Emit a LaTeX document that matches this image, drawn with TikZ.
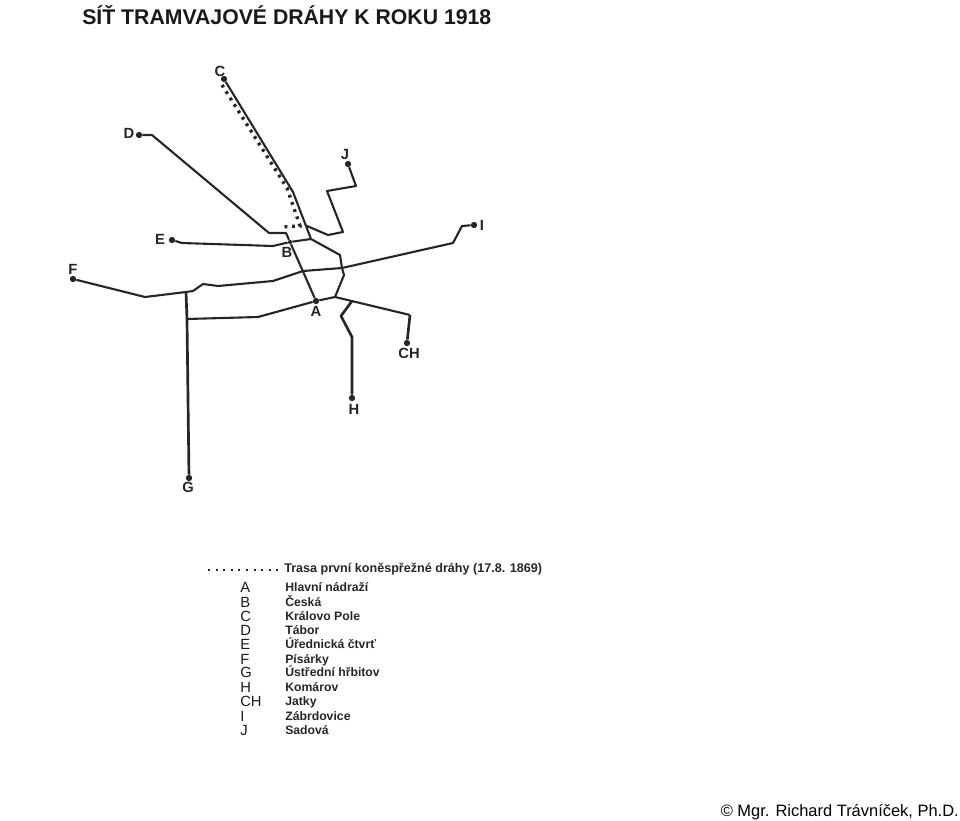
\documentclass[tikz,border=0pt]{standalone}
\usepackage{fontspec}
\setmainfont{Liberation Sans}
\tikzset{
  trat/.style={line width=1.5pt,black!85,line join=round},
  silna/.style={line width=1.9pt,black!85,line join=round},
  zast/.style={circle,fill=black!85,inner sep=0pt,minimum size=4.5pt},
  znak/.style={font=\bfseries\fontsize{10.5}{10}\selectfont,inner sep=0pt,black!85},
  legznak/.style={font=\fontsize{10.5}{10.5}\selectfont,inner sep=0pt,anchor=base west,black!90},
  legtext/.style={font=\bfseries\fontsize{8.7}{9}\selectfont,inner sep=0pt,anchor=base west,black!85},
}
\begin{document}
\begin{tikzpicture}[x=0.025cm,y=-0.025cm]
  \useasboundingbox (0,0) rectangle (960,821);
  \node[font=\bfseries\fontsize{15.1}{15}\selectfont,inner sep=0pt,anchor=base west,black!90] (titul) at (82,25) {SÍŤ TRAMVAJOVÉ DRÁHY K ROKU 1918};
  % zastavky
  \node[zast] (A) at (316,301) {};
  \node[zast,minimum size=3pt] (B) at (290,242) {};
  \node[zast] (C) at (224,79) {};
  \node[zast] (D) at (139,135) {};
  \node[zast] (E) at (172,240) {};
  \node[zast] (F) at (73,279) {};
  \node[zast] (G) at (189,478) {};
  \node[zast] (H) at (352,398) {};
  \node[zast] (CH) at (407,343) {};
  \node[zast] (I) at (474,225) {};
  \node[zast] (J) at (348,164) {};
  \coordinate (krizC) at (311,239);
  \coordinate (krizJ) at (307,226);
  \coordinate (krizF) at (186,292);
  \coordinate (krizG) at (187,319);
  \coordinate (krizA) at (335,297);
  \coordinate (krizH) at (352,301);
  \coordinate (krizI) at (342,268);
  % popisky
  \node[znak] (lA) at (316,311) {A};
  \node[znak] (lB) at (287,252) {B};
  \node[znak] (lC) at (220,71) {C};
  \node[znak] (lD) at (129,133) {D};
  \node[znak] (lE) at (160,239) {E};
  \node[znak] (lF) at (73,269) {F};
  \node[znak] (lG) at (188,487) {G};
  \node[znak] (lH) at (354,409) {H};
  \node[znak] (lCH) at (409,353) {CH};
  \node[znak] (lI) at (482,225) {I};
  \node[znak] (lJ) at (345,154) {J};
  % trate
  \draw[trat] (C)--(293,192)--(krizC);
  \draw[trat] (D)--(152,135)--(269,233)--(286,233)--(B)--(A);
  \draw[trat] (E)--(182,243)--(273,246)--(B)--(krizC);
  \draw[trat] (J)--(356,186)--(327,191)--(343,232)--(328,235)--(krizJ);
  \draw[trat] (krizC)--(340,255)--(krizI)--(344,275)--(krizA)--(A);
  \draw[trat] (I)--(462,226)--(453,243)--(krizI)--(303,271)--(273,281)--(218,286)--(203,284)--(193,291)--(krizF)--(145,297)--(F);
  \draw[silna] (krizF)--(krizG)--(G);
  \draw[trat] (krizG)--(258,317)--(A);
  \draw[trat] (krizA)--(410,315);
  \draw[silna] (410,315)--(CH);
  \draw[silna] (krizH)--(341,316)--(352,337)--(H);
  % prvni trasa
  \draw[black!85,line width=2.4pt,dash pattern=on 2pt off 3.4pt] (222,85)--(287,188)--(297,217)--(300,226)--(281,227);
  % legenda
  \coordinate (legL) at (208,570);
  \node[legtext,font=\bfseries\fontsize{8.95}{9}\selectfont] (l0) at (284,572.5) {Trasa první koněspřežné dráhy (17.8. 1869)};
  \coordinate (legR) at (279,570);
  \draw[black!85,line width=1.4pt,dash pattern=on 1.5pt off 3.9pt] (legL)--(legR);
  \foreach \z/\t/\y in {A/Hlavní nádraží/591,B/Česká/606,C/Královo Pole/620,D/Tábor/634,E/Úřednická čtvrť/648,F/Písárky/663,G/Ústřední hřbitov/676.5,H/Komárov/691,CH/Jatky/705,I/Zábrdovice/720,J/Sadová/734}{
    \node[legznak] (k\z) at (240,\y+1) {\z};
    \node[legtext] (t\z) at (285,\y) {\t};
  }
  \node[font=\fontsize{11.7}{12}\selectfont,inner sep=0pt,anchor=east] (autor) at (959,812) {© Mgr. Richard Trávníček, Ph.D.};
\end{tikzpicture}
\end{document}
